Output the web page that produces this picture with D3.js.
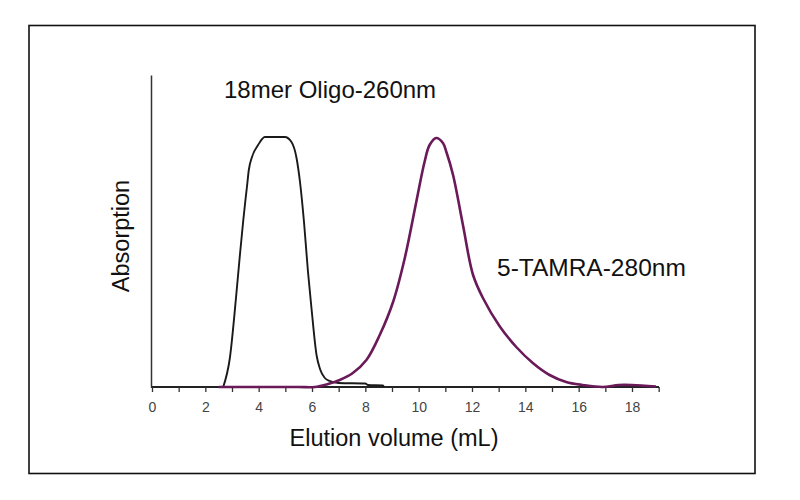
<!DOCTYPE html>
<html><head><meta charset="utf-8">
<script src="https://cdn.jsdelivr.net/npm/d3@7"></script>
<style>body{margin:0;background:#fff}svg{display:block}</style>
</head><body><svg id="c" width="800" height="500"></svg>
<script>
// Elution volume (mL) and relative absorption
const oligoX = [2.67, 2.92, 3.17, 3.30, 3.42, 3.50, 3.56, 3.63, 3.75, 3.98, 4.23, 4.98, 5.23, 5.42, 5.55, 5.70, 5.85, 5.98, 6.17, 6.30, 6.48, 6.67, 7.0, 8.0, 8.1, 8.65, 8.7];
const oligoY = [0, 29, 95, 133, 166, 186, 200, 217, 230, 242, 250, 250, 245, 229, 205, 165, 115, 79, 32, 18, 9, 6, 4, 3.5, 2, 1.5, 1];
const tamraX = [2.5, 4.0, 5.5, 6.1, 6.6, 7.04, 7.53, 8.04, 8.54, 9.04, 9.48, 9.91, 10.22, 10.41, 10.66, 10.91, 11.04, 11.29, 11.66, 12.04, 12.41, 13.03, 13.66, 14.28, 14.91, 15.53, 16.15, 16.9, 17.5, 18.0, 18.9];
const tamraY = [0, 0, 0, 0, 3, 7, 14, 27, 52, 85, 129, 185, 225, 242, 249, 244, 235, 212, 162, 112, 89, 61, 40, 24, 12, 5, 2, 0, 2, 2, 0.5];
const xTicks = [0, 2, 4, 6, 8, 10, 12, 14, 16, 18];
const xMinorTicks = d3.range(0, 20, 1);
const oligoLabel = "18mer Oligo-260nm";
const tamraLabel = "5-TAMRA-280nm";
const xTitle = "Elution volume (mL)";
const yTitle = "Absorption";

const svg = d3.select("#c");
const font = "Liberation Sans, Arial, sans-serif";
svg.append("rect").attr("x", 29).attr("y", 25.5).attr("width", 726).attr("height", 448)
  .attr("fill", "none").attr("stroke", "#111").attr("stroke-width", 1.6);

const x = d3.scaleLinear().domain([0, 19.2]).range([152, 664]);
const y = d3.scaleLinear().domain([0, 312]).range([387, 75]);

// axes
const xAxis = d3.axisBottom(x).tickValues(xMinorTicks).tickSize(5).tickFormat("");
svg.append("g").attr("transform", "translate(0,387)").call(xAxis)
  .call(g => g.select(".domain").attr("stroke", "#222").attr("stroke-width", 1.8).attr("d", "M151,0H659"))
  .call(g => g.selectAll(".tick line").attr("stroke", "#333").attr("stroke-width", 1.3));
svg.append("g").attr("transform", "translate(0,387)")
  .call(d3.axisBottom(x).tickValues(xTicks).tickSize(0).tickPadding(15))
  .call(g => g.select(".domain").remove())
  .call(g => g.selectAll("text").attr("font-family", font).attr("font-size", 14).attr("fill", "#444"));
const yAxis = d3.axisLeft(y).tickValues([]).tickSizeOuter(0);
svg.append("g").attr("transform", "translate(151,0)").call(yAxis)
  .call(g => g.select(".domain").attr("stroke", "#333").attr("stroke-width", 1.5));

const lineO = d3.line().x(d => x(d[0])).y(d => y(d[1])).curve(d3.curveMonotoneX);
const lineT = d3.line().x(d => x(d[0])).y(d => y(d[1])).curve(d3.curveCatmullRom.alpha(0.5));
svg.append("path").datum(oligoX.map((v, i) => [v, oligoY[i]]))
  .attr("d", lineO).attr("fill", "none").attr("stroke", "#1a1a1a").attr("stroke-width", 1.9);
svg.append("path").datum(tamraX.map((v, i) => [v, tamraY[i]]))
  .attr("d", lineT).attr("fill", "none").attr("stroke", "#6a1a58").attr("stroke-width", 2.6);

svg.append("text").attr("x", 224).attr("y", 98).attr("font-family", font).attr("font-size", 24)
  .attr("fill", "#111").text(oligoLabel);
svg.append("text").attr("x", 497).attr("y", 276).attr("font-family", font).attr("font-size", 24.5)
  .attr("fill", "#111").text(tamraLabel);
svg.append("text").attr("x", 394).attr("y", 446).attr("text-anchor", "middle").attr("font-family", font)
  .attr("font-size", 23.5).attr("fill", "#111").text(xTitle);
svg.append("text").attr("transform", "translate(129,236) rotate(-90)").attr("text-anchor", "middle")
  .attr("font-family", font).attr("font-size", 23.5).attr("fill", "#111").text(yTitle);
</script></body></html>
